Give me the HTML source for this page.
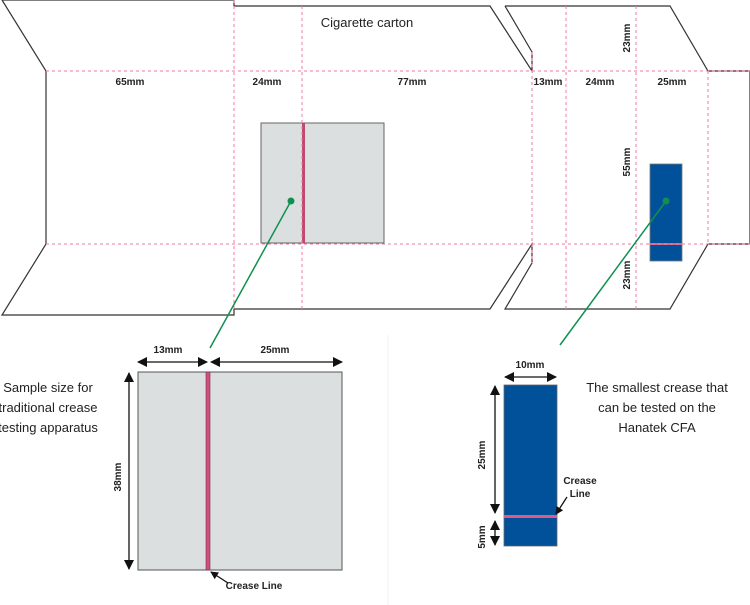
<!DOCTYPE html>
<html><head><style>html,body{margin:0;padding:0;background:#fff}svg{display:block}</style></head>
<body>
<svg width="750" height="605" viewBox="0 0 750 605" xmlns="http://www.w3.org/2000/svg" font-family="Liberation Sans, sans-serif">
<defs>
<marker id="ah" markerWidth="8" markerHeight="8" refX="7" refY="4" orient="auto" markerUnits="userSpaceOnUse"><path d="M0,0 L8,4 L0,8 z" fill="#111"/></marker>
<marker id="as" markerWidth="10" markerHeight="10" refX="9" refY="5" orient="auto-start-reverse" markerUnits="userSpaceOnUse"><path d="M0,0 L10,5 L0,10 z" fill="#111"/></marker>
</defs>
<g fill="none" stroke="#333" stroke-width="1.2">
<polyline points="234,6 490,6 532,71 532,52 505,6"/>
<polyline points="2,0 234,0 234,6"/>
<polyline points="2,0 46,71 46,244 2,315 234,315 234,309 490,309 532,244 532,263 505,309 670,309 708,244 750,244 750,71 708,71 670,6 505,6"/>
</g>
<rect x="261" y="123" width="123" height="120" fill="#dcdfe0" stroke="#666" stroke-width="1"/>
<rect x="302" y="123" width="3" height="120" fill="#c0496e"/>
<rect x="650" y="164" width="32" height="97" fill="#00509a" stroke="#777" stroke-width="0.8"/>
<rect x="650" y="243" width="32" height="2" fill="#d06a90"/>
<g stroke="#f07a9c" stroke-width="1" stroke-dasharray="3,3" fill="none">
<line x1="46" y1="71" x2="750" y2="71"/>
<line x1="46" y1="244" x2="750" y2="244"/>
<line x1="234" y1="0" x2="234" y2="309"/>
<line x1="302" y1="6" x2="302" y2="309"/>
<line x1="532" y1="52" x2="532" y2="263"/>
<line x1="566" y1="6" x2="566" y2="309"/>
<line x1="636" y1="6" x2="636" y2="309"/>
<line x1="708" y1="71" x2="708" y2="244"/>
</g>
<g stroke="#109050" stroke-width="1.5">
<line x1="291" y1="201" x2="210" y2="348"/>
<line x1="666" y1="201" x2="560" y2="345"/>
</g>
<circle cx="291" cy="201" r="3.5" fill="#109050"/>
<circle cx="666" cy="201" r="3.5" fill="#109050"/>
<g font-size="10" font-weight="bold" fill="#222" text-anchor="middle">
<text x="130" y="85">65mm</text>
<text x="267" y="85">24mm</text>
<text x="412" y="85">77mm</text>
<text x="548" y="85">13mm</text>
<text x="600" y="85">24mm</text>
<text x="672" y="85">25mm</text>
<text transform="translate(630,38) rotate(-90)">23mm</text>
<text transform="translate(630,162) rotate(-90)">55mm</text>
<text transform="translate(630,275) rotate(-90)">23mm</text>
</g>
<text x="367" y="27" font-size="13" text-anchor="middle" fill="#222">Cigarette carton</text>
<line x1="388" y1="335" x2="388" y2="605" stroke="#f2f2f2" stroke-width="1"/>
<!-- left sample -->
<rect x="138" y="372" width="204" height="198" fill="#dcdfe0" stroke="#555" stroke-width="1"/>
<rect x="206" y="372" width="4" height="198" fill="#d0507c" stroke="#7a2a45" stroke-width="0.6"/>
<g stroke="#111" stroke-width="1.3" fill="none">
<line x1="138" y1="362" x2="207" y2="362" marker-start="url(#as)" marker-end="url(#as)"/>
<line x1="211" y1="362" x2="342" y2="362" marker-start="url(#as)" marker-end="url(#as)"/>
<line x1="129" y1="373" x2="129" y2="569" marker-start="url(#as)" marker-end="url(#as)"/>
<line x1="228" y1="583" x2="211" y2="572" marker-end="url(#ah)"/>
</g>
<g font-size="10" font-weight="bold" fill="#222" text-anchor="middle">
<text x="168" y="353">13mm</text>
<text x="275" y="353">25mm</text>
<text transform="translate(121,477) rotate(-90)">38mm</text>
<text x="254" y="589">Crease Line</text>
</g>
<g font-size="13" fill="#222" text-anchor="middle">
<text x="48" y="392">Sample size for</text>
<text x="48" y="412">traditional crease</text>
<text x="48" y="432">testing apparatus</text>
<text x="657" y="392">The smallest crease that</text>
<text x="657" y="412">can be tested on the</text>
<text x="657" y="432">Hanatek CFA</text>
</g>
<!-- right sample -->
<rect x="504" y="385" width="53" height="161" fill="#00509a" stroke="#666" stroke-width="0.8"/>
<rect x="504" y="515" width="53" height="3" fill="#e05a88"/>
<g stroke="#111" stroke-width="1.3" fill="none">
<line x1="505" y1="377" x2="556" y2="377" marker-start="url(#as)" marker-end="url(#as)"/>
<line x1="495" y1="386" x2="495" y2="513" marker-start="url(#as)" marker-end="url(#as)"/>
<line x1="495" y1="521" x2="495" y2="545" marker-start="url(#as)" marker-end="url(#as)"/>
<line x1="567" y1="497" x2="556" y2="514" marker-end="url(#ah)"/>
</g>
<g font-size="10" font-weight="bold" fill="#222" text-anchor="middle">
<text x="530" y="368">10mm</text>
<text transform="translate(485,455) rotate(-90)">25mm</text>
<text transform="translate(485,537) rotate(-90)">5mm</text>
<text x="580" y="484">Crease</text>
<text x="580" y="497">Line</text>
</g>
</svg>
</body></html>
